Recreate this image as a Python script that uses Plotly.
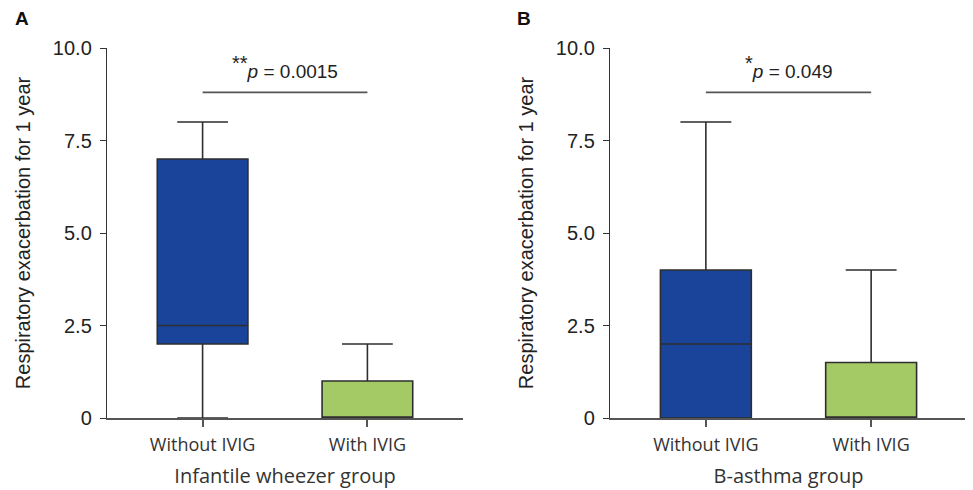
import plotly.graph_objects as go

# ---- data ----
categories = ["Without IVIG", "With IVIG"]
panels = ["A", "B"]
group_titles = ["Infantile wheezer group", "B-asthma group"]
y_title = "Respiratory exacerbation for 1 year"
y_tickvals = [0, 2.5, 5.0, 7.5, 10.0]
y_ticktext = ["0", "2.5", "5.0", "7.5", "10.0"]

# panel A
a_lower = [0, 0]
a_q1 = [2, 0]
a_median = [2.5, 0]
a_q3 = [7, 1]
a_upper = [8, 2]
a_sig_y = 8.8
a_stars = "**"
a_p = "0.0015"

# panel B
b_lower = [0, 0]
b_q1 = [0, 0]
b_median = [2, 0]
b_q3 = [4, 1.5]
b_upper = [8, 4]
b_sig_y = 8.8
b_stars = "*"
b_p = "0.049"

colors = ["#19449A", "#A4CA66"]
line_col = "#2E2E2E"

# the page body adds an 8px margin; compensate so that the picture lines up
OFF = 8
W, H = 973 - OFF, 490 - OFF
fig = go.Figure()

panel_data = [
    (a_lower, a_q1, a_median, a_q3, a_upper, a_sig_y, a_stars, a_p),
    (b_lower, b_q1, b_median, b_q3, b_upper, b_sig_y, b_stars, b_p),
]
xdomains = [[(107 - OFF) / W, (463 - OFF) / W], [(610 - OFF) / W, (967 - OFF) / W]]
ydomain = [(H - (418 - OFF)) / H, (H - (48 - OFF)) / H]

for p, (lo, q1, med, q3, up, sy, stars, pv) in enumerate(panel_data):
    xa = "x" if p == 0 else "x2"
    ya = "y" if p == 0 else "y2"
    for i, cat in enumerate(categories):
        fig.add_trace(go.Box(
            x=[i], q1=[q1[i]], median=[med[i]], q3=[q3[i]],
            lowerfence=[lo[i]], upperfence=[up[i]],
            width=0.55, whiskerwidth=0.56,
            fillcolor=colors[i],
            line=dict(color=line_col, width=1.6),
            boxpoints=False, showlegend=False, hoverinfo="skip",
            xaxis=xa, yaxis=ya,
        ))
    fig.add_shape(type="line", xref=xa, yref=ya, x0=0, x1=1, y0=sy, y1=sy,
                  line=dict(color="#555555", width=1.6))
    txt = ("<sup><span style='font-size:20px'>%s</span></sup><i>p</i> = %s"
           % (stars, pv))
    fig.add_annotation(xref=xa, yref=ya, x=0.5, y=sy + 0.22, text=txt,
                       showarrow=False, yanchor="bottom",
                       font=dict(family="Liberation Sans, Arial", size=19, color="#222"))

axis_common_x = dict(
    range=[-0.58, 1.58], tickvals=[0, 1], ticktext=categories,
    showline=True, linecolor="#555555", linewidth=1.6,
    ticks="outside", ticklen=7, tickwidth=1.6, tickcolor="#555555",
    showgrid=False, zeroline=False, automargin=False,
    tickfont=dict(family="Open Sans", size=18, color="#333"),
    ticklabelstandoff=3,
)
axis_common_y = dict(
    range=[0, 10], tickvals=y_tickvals, ticktext=y_ticktext,
    showline=True, linecolor="#333333", linewidth=1.4,
    ticks="outside", ticklen=6, tickwidth=1.4, tickcolor="#333333",
    showgrid=False, zeroline=False, automargin=False,
    tickfont=dict(family="Liberation Sans, Arial", size=20, color="#222"),
    ticklabelstandoff=4,
    title=dict(text=y_title, font=dict(family="Liberation Sans, Arial", size=20, color="#222"),
               standoff=16),
)

def xt(t):
    return dict(text=t, font=dict(family="Open Sans", size=20, color="#333"), standoff=14)

fig.update_layout(
    width=W, height=H,
    margin=dict(l=0, r=0, t=0, b=0),
    paper_bgcolor="white", plot_bgcolor="white",
    xaxis=dict(domain=xdomains[0], anchor="y", title=xt(group_titles[0]), **axis_common_x),
    xaxis2=dict(domain=xdomains[1], anchor="y2", title=xt(group_titles[1]), **axis_common_x),
    yaxis=dict(domain=ydomain, anchor="x", **axis_common_y),
    yaxis2=dict(domain=ydomain, anchor="x2", **axis_common_y),
)

for lbl, xp in zip(panels, [13, 515]):
    fig.add_annotation(xref="paper", yref="paper", x=(xp - OFF) / W, y=1 - (18 - OFF) / H,
                       text="<b>%s</b>" % lbl, showarrow=False,
                       xanchor="left", yanchor="middle",
                       font=dict(family="Liberation Sans, Arial", size=19, color="#111"))

fig.write_html("out.html")
